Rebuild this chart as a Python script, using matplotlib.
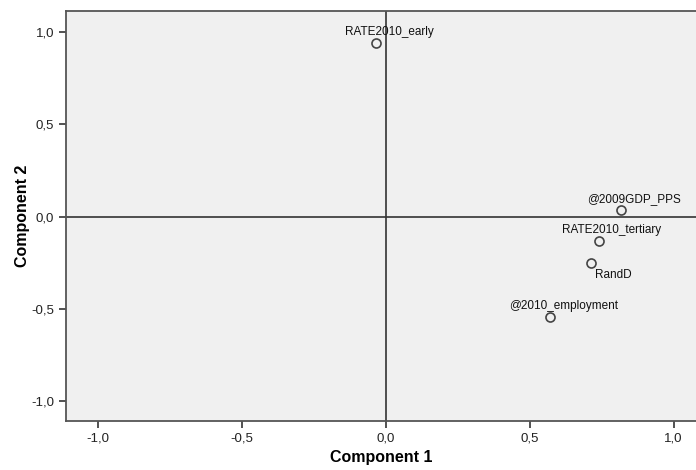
import matplotlib.pyplot as plt
from matplotlib.ticker import FuncFormatter

plt.rcParams["font.family"] = ["Liberation Sans", "DejaVu Sans"]

# component loadings (rotated)
names = ["RATE2010_early", "@2009GDP_PPS", "RATE2010_tertiary", "RandD", "@2010_employment"]
comp1 = [-0.033, 0.816, 0.740, 0.715, 0.572]
comp2 = [0.941, 0.036, -0.132, -0.249, -0.545]
ticks = [-1.0, -0.5, 0.0, 0.5, 1.0]

fig = plt.figure(figsize=(6.96, 4.70), dpi=100)
ax = fig.add_axes([66 / 696, 1 - 421 / 470, 1 - 66 / 696, 410 / 470])
ax.set_facecolor("#f0f0f0")

ax.axhline(0, color="#333333", lw=1.2, zorder=1)
ax.axvline(0, color="#333333", lw=1.2, zorder=1)

ax.plot(comp1, comp2, "o", ms=6.5, mfc="none", mec="#444444", mew=1.2, zorder=3)

for n, x, y in zip(names, comp1, comp2):
    if n == "RandD":
        ax.annotate(n, (x, y), xytext=(16, -4.5), textcoords="offset points",
                    ha="center", va="top", fontsize=8.5, color="#111111")
    else:
        ax.annotate(n, (x, y), xytext=(9.5, 6), textcoords="offset points",
                    ha="center", va="baseline", fontsize=8.5, color="#111111")

ax.set_xlim(-1.11, 1.078)
ax.set_ylim(-1.107, 1.115)
ax.set_xticks(ticks)
ax.set_yticks(ticks)
fmt = FuncFormatter(lambda v, p: f"{v:.1f}".replace(".", ","))
ax.xaxis.set_major_formatter(fmt)
ax.yaxis.set_major_formatter(fmt)
ax.tick_params(length=5, width=1.2, color="#333333", labelsize=9.5, labelcolor="#222222")

for s in ["left", "bottom", "top"]:
    ax.spines[s].set_color("#555555")
    ax.spines[s].set_linewidth(1.3)
ax.spines["right"].set_visible(False)

ax.set_xlabel("Component 1", fontsize=11.5, fontweight="bold", labelpad=4)
ax.set_ylabel("Component 2", fontsize=11.5, fontweight="bold", labelpad=1)

fig.savefig("out.png", dpi=100)
